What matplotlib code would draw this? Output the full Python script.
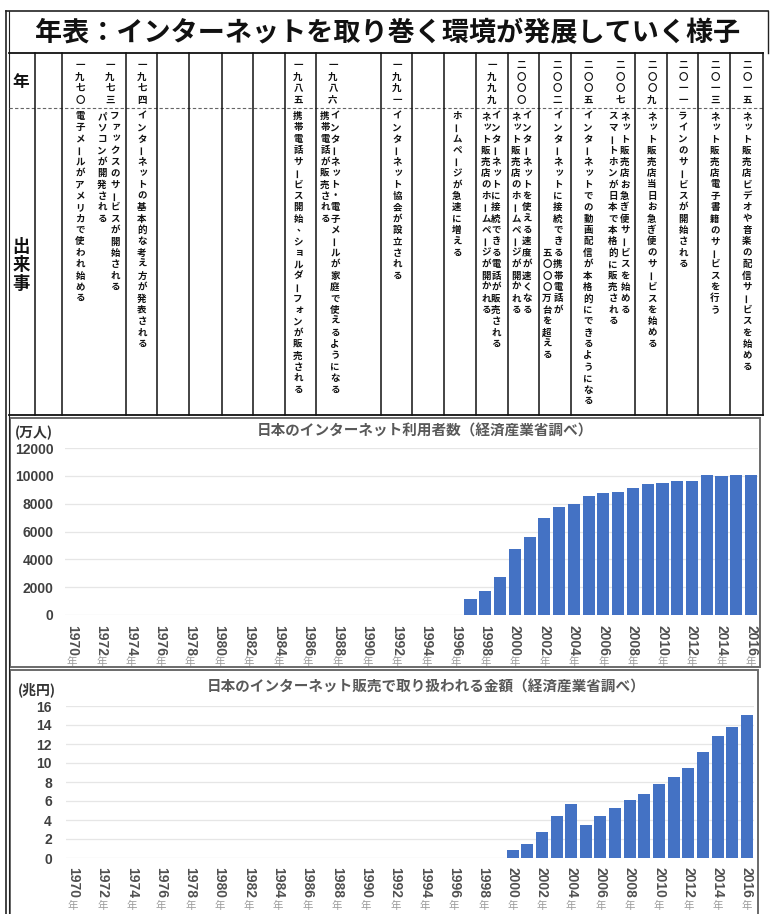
import numpy as np
import matplotlib
matplotlib.use("Agg")
import matplotlib.pyplot as plt
from matplotlib.patches import Rectangle
from matplotlib.transforms import offset_copy

plt.rcParams['font.family'] = ['Noto Sans CJK JP', 'DejaVu Sans']

W, H = 778, 914

title = "年表：インターネットを取り巻く環境が発展していく様子"

# 年表の中身（縦書き）
event_years = ["一九七〇", "一九七三", "一九七四", "一九八五", "一九八六", "一九九一", "",
               "一九九九", "二〇〇〇", "二〇〇二", "二〇〇五", "二〇〇七", "二〇〇九",
               "二〇一一", "二〇一三", "二〇一五"]
event_texts = [
    ["電子メールがアメリカで使われ始める"],
    ["ファックスのサービスが開始される", "パソコンが開発される"],
    ["インターネットの基本的な考え方が発表される"],
    ["携帯電話サービス開始、ショルダーフォンが販売される"],
    ["インターネット・電子メールが家庭で使えるようになる", "携帯電話が販売される"],
    ["インターネット協会が設立される"],
    ["ホームページが急速に増える"],
    ["インターネットに接続できる電話が販売される", "ネット販売店のホームページが開かれる"],
    ["インターネットを使える速度が速くなる", "ネット販売店のホームページが開かれる"],
    ["インターネットに接続できる携帯電話が", "　" * 12 + "五〇〇〇万台を超える"],
    ["インターネットでの動画配信が本格的にできるようになる"],
    ["ネット販売店お急ぎ便サービスを始める", "スマートホンが日本で本格的に販売される"],
    ["ネット販売店当日お急ぎ便のサービスを始める"],
    ["ラインのサービスが開始される"],
    ["ネット販売店電子書籍のサービスを行う"],
    ["ネット販売店ビデオや音楽の配信サービスを始める"],
]

# 利用者数（万人）
user_years = list(range(1997, 2017))
users = [1155, 1694, 2706, 4708, 5593, 6942, 7730, 7948, 8529, 8754,
         8811, 9091, 9408, 9462, 9610, 9652, 10044, 10018, 10046, 10084]

# 販売金額（兆円）
sales_years = list(range(2000, 2017))
sales = [0.8, 1.5, 2.7, 4.4, 5.7, 3.5, 4.4, 5.3, 6.1, 6.7,
         7.8, 8.5, 9.5, 11.2, 12.8, 13.8, 15.1]

axis_years = list(range(1970, 2017, 2))

# 表の列の位置（ピクセル）
col_edges = [35, 62, 126, 157, 189, 222, 253, 285, 316, 381, 412, 444,
             476, 508, 539, 571, 635, 667, 698, 730, 763]
year_x = [80, 110, 142, 298, 333, 397, 457, 492, 521, 557, 588, 620,
          652, 683, 715, 747]
line_x = [[80], [115, 102], [142], [298], [335, 325], [397], [457],
          [496, 486], [527, 516], [558, 547], [588], [625, 613], [652],
          [683], [715], [747]]

SMALL = "ッャュョァィゥェォっゃゅょ"
BAR = "#4472c4"


def px_rect(x0, y0, x1, y1):
    return [x0 / W, 1 - y1 / H, (x1 - x0) / W, (y1 - y0) / H]


def vtext(ax, x, y, s, step, size):
    for i, ch in enumerate(s):
        if ch in " 　":
            continue
        dx = dy = 0
        rot = 90 if ch == "ー" else 0
        if ch in SMALL:
            dx, dy = 1.2, -1.2
        if ch == "、":
            dx, dy = 3, -3
        ax.text(x + dx, y + i * step + dy, ch, ha='center', va='center',
                rotation=rot, fontsize=size, fontweight='bold', color='#111')


def bar_panel(fig, rect, years, values, ymax, ystep, digit_off, nen_off, pad):
    ax = fig.add_axes(px_rect(*rect))
    ax.bar(years, values, width=0.82, color=BAR, zorder=2)
    ax.set_xlim(1969.5, 2016.5)
    ax.set_ylim(0, ymax)
    ticks = np.arange(0, ymax + 1, ystep)
    ax.set_yticks(ticks)
    ax.set_yticklabels([str(int(t)) for t in ticks], fontweight='bold',
                       color='#404040', fontsize=10, family='Liberation Sans')
    ax.set_xticks([])
    ax.tick_params(axis='y', length=0, pad=pad)
    ax.yaxis.grid(True, color='#e6e6e6', lw=0.9)
    ax.set_axisbelow(True)
    for sp in ax.spines.values():
        sp.set_visible(False)
    t1 = offset_copy(ax.get_xaxis_transform(), fig, y=-digit_off, units='dots')
    t2 = offset_copy(ax.get_xaxis_transform(), fig, y=-nen_off, units='dots')
    for yr in axis_years:
        ax.text(yr, 0, str(yr), transform=t1, rotation=-90, ha='center',
                va='top', fontsize=10, fontweight='bold', color='#505050',
                family='Liberation Sans')
        ax.text(yr, 0, "年", transform=t2, ha='center', va='center',
                fontsize=7.5, color='#9a9a9a')
    return ax


fig = plt.figure(figsize=(W / 100, H / 100), dpi=100)
fig.patch.set_facecolor('white')

bg = fig.add_axes([0, 0, 1, 1])
bg.set_xlim(0, W)
bg.set_ylim(H, 0)
bg.axis('off')

# 外枠とタイトル
bg.plot([6.5, 6.5], [11, H], color='#222', lw=1.2)
bg.plot([9.5, 9.5], [11, H], color='#222', lw=0.8)
bg.plot([6.5, 768], [11, 11], color='#222', lw=1.2)
bg.plot([768, 768], [11, 53], color='#222', lw=1.0)
bg.text(388, 33, title, ha='center', va='center', fontsize=19.5,
        fontweight='bold', color='#111')

# 年表の罫線
bg.plot([9.5, 763], [53, 53], color='#111', lw=1.3)
bg.plot([9.5, 763], [415, 415], color='#111', lw=1.3)
bg.plot([9.5, 763], [108, 108], color='#666', lw=0.8, ls=(0, (3, 2)))
for x in col_edges:
    bg.plot([x, x], [53, 415], color='#111', lw=1.1)

bg.text(21, 82, "年", ha='center', va='center', fontsize=12,
        fontweight='bold', color='#111')
for i, ch in enumerate("出来事"):
    bg.text(21, 247 + i * 18.5, ch, ha='center', va='center', fontsize=12.5,
            fontweight='bold', color='#111')

for yk, lines, yx, lx in zip(event_years, event_texts, year_x, line_x):
    vtext(bg, yx, 65, yk, 11.6, 6.8)
    for txt, x in zip(lines, lx):
        vtext(bg, x, 116, txt, 11.4, 6.8)

# グラフ1：利用者数
bg.add_patch(Rectangle((10, 418), 750, 249, fill=False, ec='#6a6a6a', lw=1.4))
bg.text(425, 431, "日本のインターネット利用者数（経済産業省調べ）", ha='center',
        va='center', fontsize=10.5, fontweight='bold', color='#595959')
bg.text(34, 433, "(万人)", ha='center', va='center', fontsize=10,
        fontweight='bold', color='#333')
bar_panel(fig, (64.6, 448, 758.4, 615), user_years, users, 12000, 2000,
          10, 47, 8)

# グラフ2：販売金額
bg.add_patch(Rectangle((10, 670), 748, 250, fill=False, ec='#6a6a6a', lw=1.4))
bg.text(426, 687, "日本のインターネット販売で取り扱われる金額（経済産業省調べ）",
        ha='center', va='center', fontsize=10.5, fontweight='bold',
        color='#595959')
bg.text(37, 690, "(兆円)", ha='center', va='center', fontsize=10,
        fontweight='bold', color='#333')
bar_panel(fig, (65.7, 706, 754.3, 858), sales_years, sales, 16, 2, 9, 48, 10)

fig.savefig("out.png", dpi=100)
